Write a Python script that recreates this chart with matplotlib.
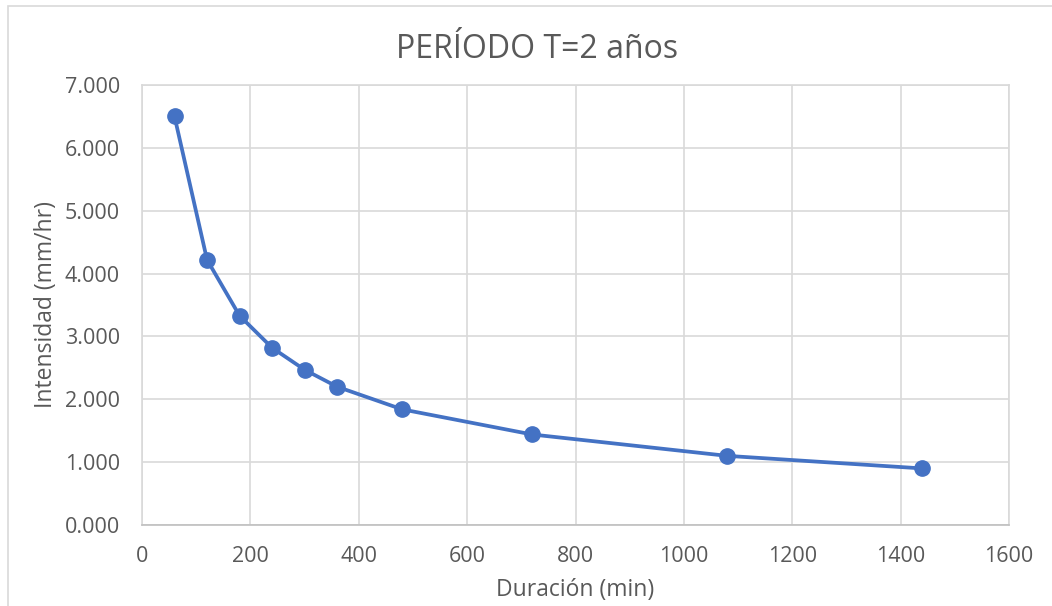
import matplotlib.pyplot as plt
from matplotlib.patches import Rectangle

# data
duracion = [60, 120, 180, 240, 300, 360, 480, 720, 1080, 1440]
intensidad = [6.50, 4.22, 3.33, 2.82, 2.47, 2.20, 1.84, 1.44, 1.10, 0.90]
x_ticks = [0, 200, 400, 600, 800, 1000, 1200, 1400, 1600]
y_ticks = [0, 1, 2, 3, 4, 5, 6, 7]

blue = '#4472C4'
text_grey = '#595959'
grid_grey = '#D9D9D9'

plt.rcParams['font.family'] = ['Open Sans', 'DejaVu Sans']

fig = plt.figure(figsize=(10.52, 6.06), dpi=100)
ax = fig.add_axes([142 / 1052, 1 - 525 / 606, 867 / 1052, 440 / 606])

# frame of the chart area (cropped on the right and bottom)
fig.patches.append(Rectangle((8 / 1052, -0.1), 1.2, 1 - 6 / 606 + 0.1,
                             transform=fig.transFigure, fill=False,
                             edgecolor=grid_grey, linewidth=1.2))

ax.plot(duracion, intensidad, color=blue, linewidth=2.7, marker='o',
        markersize=11, solid_joinstyle='round', solid_capstyle='round',
        zorder=3)

ax.set_xlim(0, 1600)
ax.set_ylim(0, 7)
ax.set_xticks(x_ticks)
ax.set_yticks(y_ticks)
ax.set_yticklabels(['{:.3f}'.format(v) for v in y_ticks])
ax.tick_params(length=0, labelsize=15.5, labelcolor=text_grey)
ax.tick_params(axis='y', pad=16)
ax.tick_params(axis='x', pad=15)
ax.grid(True, color=grid_grey, linewidth=1.2)
ax.set_axisbelow(True)
for side in ['top', 'right', 'left']:
    ax.spines[side].set_color(grid_grey)
    ax.spines[side].set_linewidth(1.2)
ax.spines['bottom'].set_color('#BFBFBF')
ax.spines['bottom'].set_linewidth(1.2)

ax.set_xlabel('Duración (min)', fontsize=16.5, color=text_grey, labelpad=8)
ax.set_ylabel('Intensidad (mm/hr)', fontsize=16.5, color=text_grey, labelpad=5)
fig.text(537 / 1052, 1 - 50 / 606, 'PERÍODO T=2 años', ha='center', va='center',
         fontsize=23, color=text_grey)

fig.savefig('out.png', dpi=100)
